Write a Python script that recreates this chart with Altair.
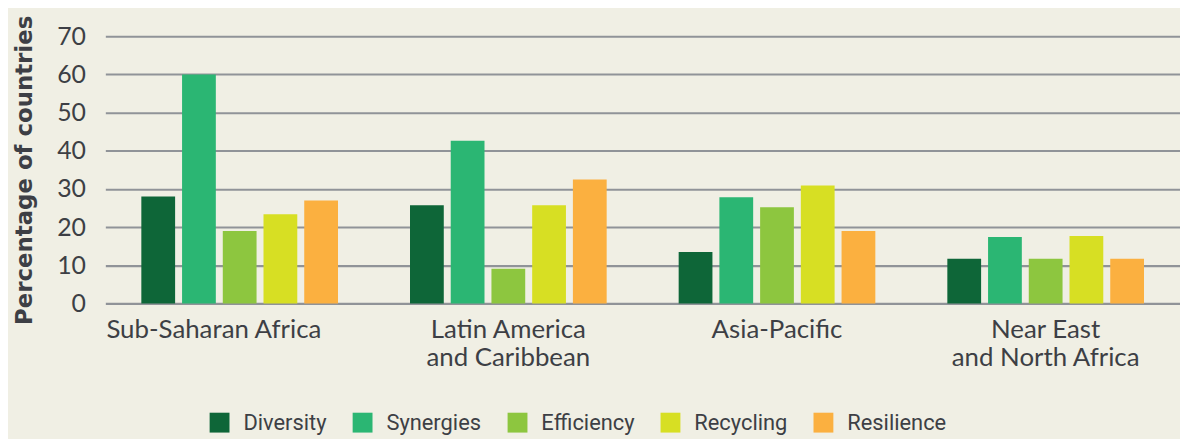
import altair as alt
import pandas as pd

regions = ["Sub-Saharan Africa", "Latin America|and Caribbean", "Asia-Pacific", "Near East|and North Africa"]
principles = ["Diversity", "Synergies", "Efficiency", "Recycling", "Resilience"]
colors = ["#0e6638", "#2bb673", "#8dc63f", "#d7df23", "#fbb040"]

diversity = [28, 25.7, 13.5, 11.7]
synergies = [60, 42.6, 27.8, 17.4]
efficiency = [19, 9.1, 25.2, 11.7]
recycling = [23.4, 25.7, 30.9, 17.7]
resilience = [27, 32.5, 19, 11.7]

series = [diversity, synergies, efficiency, recycling, resilience]
rows = []
for p, vals in zip(principles, series):
    for r, v in zip(regions, vals):
        rows.append({"region": r, "principle": p, "value": v})
df = pd.DataFrame(rows)

txt = "#3d3f45"

chart = alt.Chart(df).mark_bar().encode(
    x=alt.X("region:N", sort=regions, title=None,
            scale=alt.Scale(paddingInner=0, paddingOuter=0),
            axis=alt.Axis(labelAngle=0, domain=False, ticks=False, labelPadding=13,
                          labelFont="Lato", labelFontSize=26, labelColor=txt,
                          labelLineHeight=28, labelBaseline="top", labelLimit=0,
                          labelOffset={"condition": {"test": "datum.value == 'Sub-Saharan Africa'", "value": -26}, "value": 0},
                          labelExpr="split(datum.label, '|')")),
    xOffset=alt.XOffset("principle:N", sort=principles,
                        scale=alt.Scale(paddingInner=0.1707, paddingOuter=0.884)),
    y=alt.Y("value:Q", title="Percentage of countries",
            scale=alt.Scale(domain=[0, 70], nice=False),
            axis=alt.Axis(values=[0, 10, 20, 30, 40, 50, 60, 70], domain=False, ticks=False,
                          labelPadding=20, labelFont="Lato", labelFontSize=25, labelColor=txt,
                          titleFont="DejaVu Sans", titleFontSize=23, titleFontWeight="bold",
                          titleColor=txt, titlePadding=20,
                          gridColor="#909398", gridWidth=2.2, gridOpacity=1)),
    color=alt.Color("principle:N", sort=principles,
                    scale=alt.Scale(domain=principles, range=colors),
                    legend=alt.Legend(title=None, orient="none", direction="horizontal",
                                      legendX=104, legendY=378,
                                      symbolType="square", symbolSize=400,
                                      symbolStrokeWidth=0, symbolOpacity=1,
                                      labelFont="Roboto", labelFontSize=22,
                                      labelColor=txt, labelOffset=13, columnPadding=25,
                                      labelLimit=0)),
).properties(
    width=1082, height=269,
    background="#f0efe4",
    padding={"left": 98, "top": 27, "right": 0, "bottom": 135},
    autosize=alt.AutoSizeParams(type="none"),
).configure_view(stroke=None)

chart.save("out.html", embed_options={"renderer": "svg", "actions": False})
